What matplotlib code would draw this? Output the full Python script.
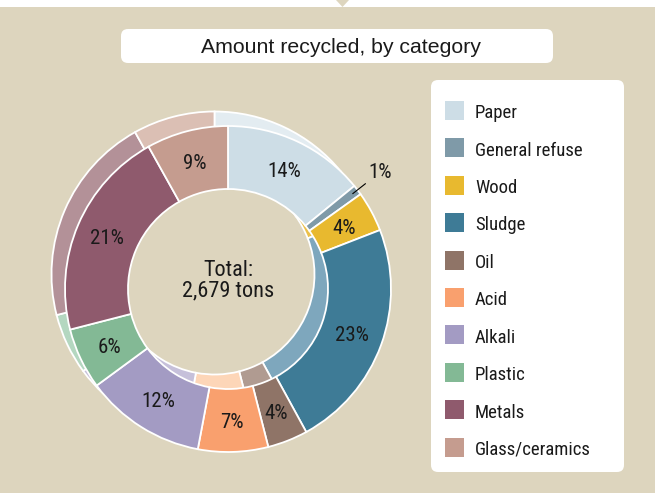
import matplotlib.pyplot as plt
import numpy as np
from matplotlib.patches import FancyBboxPatch, Rectangle, Polygon

# data
categories = ['Paper', 'General refuse', 'Wood', 'Sludge', 'Oil', 'Acid',
              'Alkali', 'Plastic', 'Metals', 'Glass/ceramics']
tons = [378, 27, 107, 614, 107, 186, 320, 163, 560, 217]
pct_labels = ['14%', '1%', '4%', '23%', '4%', '7%', '12%', '6%', '21%', '9%']
total_text = 'Total:\n2,679 tons'
title = 'Amount recycled, by category'

front_colors = ['#cddde6', '#7f9aa8', '#e8b92f', '#3e7b96', '#8f7467',
                '#f9a06e', '#a39bc3', '#83b995', '#8f5a6d', '#c59c8f']
back_colors = ['#e3ecf1', '#a9bcc6', '#ebc04a', '#7ea7bd', '#b09b91',
               '#fdd6b8', '#c6c0da', '#b4d7c0', '#b39198', '#dbbfb4']

bg = '#ddd5be'
ink = '#1a1a1a'
narrow = ['Roboto Condensed', 'Archivo Narrow', 'DejaVu Sans']
W, H = 655, 493

fig = plt.figure(figsize=(W / 100, H / 100), dpi=100)
fig.patch.set_facecolor('white')
ax = fig.add_axes([0, 0, 1, 1])

def Y(y):
    # screen y (top down) -> data y
    return H - y

cx, cy = 228, Y(289)
R, ring = 163, 63
off = (-13.5, 14.5)

# back (shadow) ring, then front ring
ax.pie(tons, colors=back_colors, startangle=90, counterclock=False,
       radius=R, center=(cx + off[0], cy + off[1]), frame=True,
       wedgeprops=dict(width=ring, edgecolor='white', linewidth=1.3))
wedges, _ = ax.pie(tons, colors=front_colors, startangle=90, counterclock=False,
                   radius=R, center=(cx, cy), frame=True,
                   wedgeprops=dict(width=ring, edgecolor='white', linewidth=1.3))

# percentage labels
cum = np.cumsum(tons)
mids = (cum - np.array(tons) / 2) / cum[-1] * 360
r_lab = R - ring / 2
for i, (a, lab) in enumerate(zip(mids, pct_labels)):
    th = np.deg2rad(90 - a)
    if categories[i] == 'General refuse':
        ax.annotate(lab, xy=(cx + 157 * np.cos(th), cy + 157 * np.sin(th)),
                    xytext=(380, Y(178)), ha='center', va='baseline',
                    fontsize=15, family=narrow, color=ink,
                    arrowprops=dict(arrowstyle='-', color='black', lw=0.8,
                                    shrinkA=0, shrinkB=0, relpos=(0.25, 0.27)))
        continue
    ax.text(cx + r_lab * np.cos(th), cy + r_lab * np.sin(th) - 7.2, lab,
            ha='center', va='baseline', fontsize=15, family=narrow, color=ink)

ax.text(cx, Y(280.5), total_text, ha='center', va='center', fontsize=16,
        family=narrow, color=ink, linespacing=1.0)

# background panel
ax.add_patch(Rectangle((0, 0), W, Y(7), facecolor=bg, edgecolor='none', zorder=-10))
ax.add_patch(Polygon([(336, Y(0)), (349, Y(0)), (342.5, Y(7))], closed=True,
                     facecolor=bg, edgecolor='none', zorder=-10))

# title box
ax.add_patch(FancyBboxPatch((121, Y(63)), 432, 34,
                            boxstyle='round,pad=0,rounding_size=7',
                            facecolor='white', edgecolor='none', zorder=-5))
ax.text(341, Y(53.3), title, ha='center', va='baseline', fontsize=15.3,
        family=['Liberation Sans', 'DejaVu Sans'], color=ink)

# legend box
ax.add_patch(FancyBboxPatch((431, Y(472)), 193, 392,
                            boxstyle='round,pad=0,rounding_size=7',
                            facecolor='white', edgecolor='none', zorder=-5))
for i, (name, col) in enumerate(zip(categories, front_colors)):
    base = 118.3 + i * 37.4
    ax.add_patch(Rectangle((445, Y(base + 1.7)), 19, 19, facecolor=col,
                           edgecolor='none'))
    ax.text(475, Y(base), name, ha='left', va='baseline', fontsize=13.5,
            family=narrow, color=ink)

ax.set_xlim(0, W)
ax.set_ylim(0, H)
ax.set_aspect('auto')
ax.axis('off')

fig.savefig('out.png', dpi=100, facecolor=fig.get_facecolor())
